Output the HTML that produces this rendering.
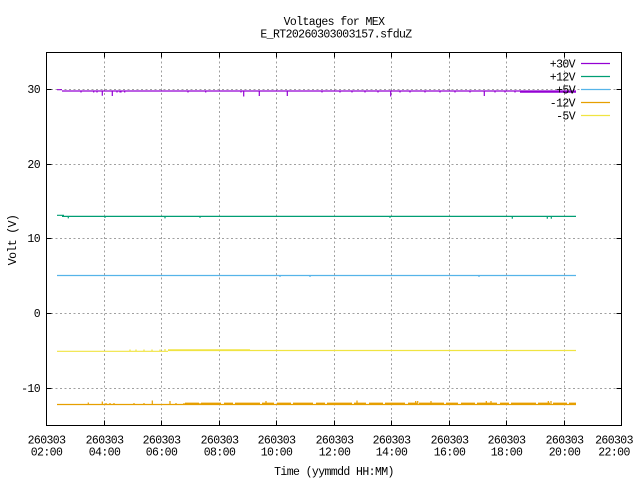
<!DOCTYPE html>
<html><head><meta charset="utf-8"><style>
html,body{margin:0;padding:0;background:#fff;}
svg{display:block;}
text{font-family:"Liberation Mono","DejaVu Sans Mono",monospace;font-size:11.5px;letter-spacing:-0.6px;fill:#000;}
</style></head><body>
<svg width="640" height="480" viewBox="0 0 640 480" xmlns="http://www.w3.org/2000/svg">
<rect width="640" height="480" fill="#fff"/>
<!-- grid -->
<g stroke="#a0a0a0" stroke-width="1" stroke-dasharray="2,2.5" fill="none">
<line x1="46.5" y1="388.5" x2="621.5" y2="388.5"/>
<line x1="46.5" y1="313.5" x2="621.5" y2="313.5"/>
<line x1="46.5" y1="238.5" x2="621.5" y2="238.5"/>
<line x1="46.5" y1="164.5" x2="621.5" y2="164.5"/>
<line x1="46.5" y1="89.5" x2="621.5" y2="89.5"/>
<line x1="104.5" y1="52.5" x2="104.5" y2="425.5"/>
<line x1="161.5" y1="52.5" x2="161.5" y2="425.5"/>
<line x1="219.5" y1="52.5" x2="219.5" y2="425.5"/>
<line x1="276.5" y1="52.5" x2="276.5" y2="425.5"/>
<line x1="334.5" y1="52.5" x2="334.5" y2="425.5"/>
<line x1="391.5" y1="52.5" x2="391.5" y2="425.5"/>
<line x1="449.5" y1="52.5" x2="449.5" y2="425.5"/>
<line x1="506.5" y1="52.5" x2="506.5" y2="425.5"/>
<line x1="564.5" y1="52.5" x2="564.5" y2="425.5"/>
</g>
<!-- ticks -->
<g stroke="#000" stroke-width="1">
<path d="M46.5 388.5h5M46.5 313.5h5M46.5 238.5h5M46.5 164.5h5M46.5 89.5h5"/>
<path d="M621.5 388.5h-5M621.5 313.5h-5M621.5 238.5h-5M621.5 164.5h-5M621.5 89.5h-5"/>
<path d="M104.5 425.5v-5M161.5 425.5v-5M219.5 425.5v-5M276.5 425.5v-5M334.5 425.5v-5M391.5 425.5v-5M449.5 425.5v-5M506.5 425.5v-5M564.5 425.5v-5"/>
<path d="M104.5 52.5v5M161.5 52.5v5M219.5 52.5v5M276.5 52.5v5M334.5 52.5v5M391.5 52.5v5M449.5 52.5v5M506.5 52.5v5M564.5 52.5v5"/>
</g>
<!-- series -->
<g fill="none" stroke-width="1.2">
<!-- -5V -->
<g stroke="#f0e442">
<path d="M57 351.3H168M168 350.5H576"/>
<path d="M130 351v-1.5M136 351v-1.5M144 351v-1.5M152 351v-1.5M160 351v-1.5M165 351v-2" />
<path d="M168 350H250" stroke-width="1.6"/>
</g>
<!-- -12V -->
<g stroke="#e69f00">
<path d="M57 404.5H576"/>
<path d="M185 403.6H576" stroke-width="2" stroke-dasharray="14,2,20,3,9,2,25,2,12,3"/>
<path d="M88.3 404.5v-2M102.3 404.5v-3M152.3 404.5v-4M170 404.5v-3.5M266 404.5v-3.5M357 404.5v-4M415.7 404.5v-3.5M417.7 404.5v-3.5M431 404.5v-3.5M486.3 404.5v-3.5M491 404.5v-3.5M548.3 404.5v-3.5M551 404.5v-3.5"/>
<path d="M106 404.5v-1.5M110 404.5v-1.5M114 404.5v-1.5M134 404.5v-1.5M144 404.5v-1.5M176 404.5v-1.5M184 404.5v-1.5M190 404.5v-1.5M200 404.5v-1.5M230 404.5v-1.5M300 404.5v-1.5M330 404.5v-1.5M380 404.5v-1.5M450 404.5v-1.5M520 404.5v-1.5"/>
</g>
<!-- +5V -->
<g stroke="#56b4e9">
<path d="M57 275.5H576"/>
<path d="M280 275.5v1.5M310 275.5v1.5M479 275.5v1.5"/>
</g>
<!-- +12V -->
<g stroke="#009e73">
<path d="M57 215.3H64M62 216.4H576"/>
<path d="M68.3 216.4v2M165 216.4v2M105 216.4v1.5M200 216.4v1.5M390 216.4v1.5M512.3 216.4v2.3M547.3 216.4v2.3M551.3 216.4v2.3"/>
</g>
<!-- +30V -->
<g stroke="#9400d3">
<path d="M57 89.7H62M62 91H576"/>
<path d="M520 91.8H576" stroke-width="2"/>
<path d="M102.3 91v4.7M112.3 91v5M243.7 91v5.5M259.3 91v5M287.3 91v5M390.7 91v5.5M484.3 91v5"/>
<path d="M81 91v1.5M93.7 91v1.5M97 91v1.5M117 91v1.5M120 91v1.5M121 91v1.5M124.7 91v1.5M188 91v1.5M205.7 91v1.5M241 91v1.5M322 91v1.5M340 91v1.5M352 91v1.5M365 91v1.5M378 91v1.5M400 91v1.5M410 91v1.5M425 91v1.5M440 91v1.5M455 91v1.5M470 91v1.5M495 91v1.5M505 91v1.5M515 91v1.5"/>
</g>
</g>
<!-- border -->
<rect x="46.5" y="52.5" width="575" height="373" fill="none" stroke="#000" stroke-width="1"/>
<!-- y labels -->
<g text-anchor="end">
<text x="40" y="93">30</text>
<text x="40" y="168">20</text>
<text x="40" y="242">10</text>
<text x="40" y="317">0</text>
<text x="40" y="392">-10</text>
</g>
<!-- x labels -->
<g text-anchor="middle">
<text x="46.5" y="443.5">260303</text><text x="46.5" y="455.5">02:00</text>
<text x="104.5" y="443.5">260303</text><text x="104.5" y="455.5">04:00</text>
<text x="161.5" y="443.5">260303</text><text x="161.5" y="455.5">06:00</text>
<text x="219.5" y="443.5">260303</text><text x="219.5" y="455.5">08:00</text>
<text x="276.5" y="443.5">260303</text><text x="276.5" y="455.5">10:00</text>
<text x="334.5" y="443.5">260303</text><text x="334.5" y="455.5">12:00</text>
<text x="391.5" y="443.5">260303</text><text x="391.5" y="455.5">14:00</text>
<text x="449.5" y="443.5">260303</text><text x="449.5" y="455.5">16:00</text>
<text x="506.5" y="443.5">260303</text><text x="506.5" y="455.5">18:00</text>
<text x="564.5" y="443.5">260303</text><text x="564.5" y="455.5">20:00</text>
<text x="614" y="443.5">260303</text><text x="614" y="455.5">22:00</text>
<text x="334" y="475">Time (yymmdd HH:MM)</text>
<text x="334" y="25">Voltages for MEX</text>
<text x="336" y="37.5">E_RT20260303003157.sfduZ</text>
</g>
<text transform="translate(16,240) rotate(-90)" text-anchor="middle">Volt (V)</text>
<!-- legend -->
<g text-anchor="end">
<text x="575" y="67.5">+30V</text>
<text x="575" y="80.5">+12V</text>
<text x="575" y="93.5">+5V</text>
<text x="575" y="106.5">-12V</text>
<text x="575" y="119.5">-5V</text>
</g>
<g stroke-width="1.3">
<line x1="581" y1="63.5" x2="610" y2="63.5" stroke="#9400d3"/>
<line x1="581" y1="76.5" x2="610" y2="76.5" stroke="#009e73"/>
<line x1="581" y1="89.5" x2="610" y2="89.5" stroke="#56b4e9"/>
<line x1="581" y1="102.5" x2="610" y2="102.5" stroke="#e69f00"/>
<line x1="581" y1="115.5" x2="610" y2="115.5" stroke="#f0e442"/>
</g>
</svg>
</body></html>
